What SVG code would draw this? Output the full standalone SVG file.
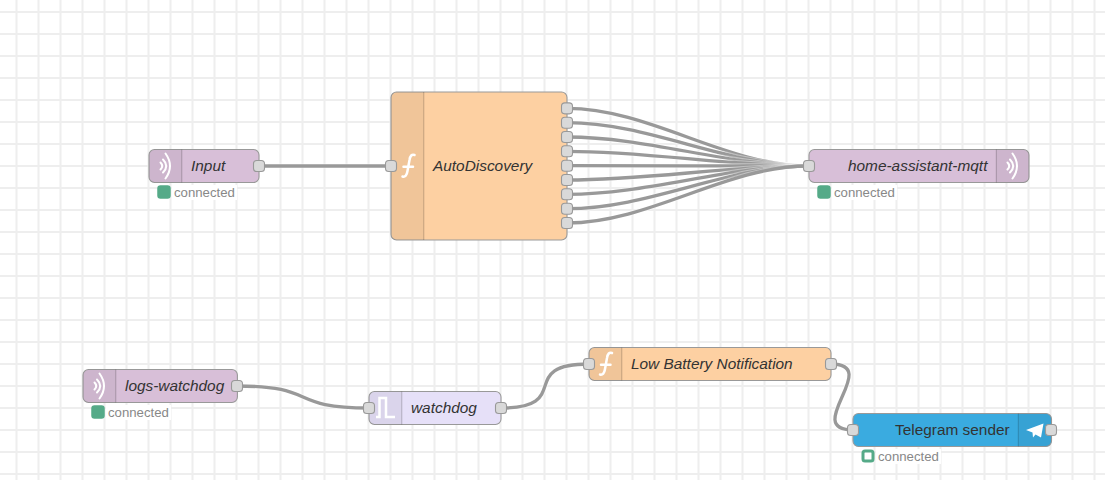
<svg xmlns="http://www.w3.org/2000/svg" width="1105" height="480" viewBox="0 0 1105 480">
<style>
.bg{fill:#fff}
.grid{stroke:#eee;stroke-width:2;fill:none}
.wire{stroke:#999;stroke-width:3.3;fill:none}
.halo{stroke:#fff;stroke-opacity:.4;stroke-width:5.5;fill:none}
.body{stroke:#999;stroke-width:1.1}
.tab{fill:#000;fill-opacity:.05}
.sep{stroke:#000;stroke-opacity:.2;stroke-width:1}
.port{fill:#d9d9d9;stroke:#999;stroke-width:1.1}
.label{font-family:"Liberation Sans",Arial,sans-serif;font-size:15.4px;fill:#333}
.it{font-style:italic}
.status{font-family:"Liberation Sans",Arial,sans-serif;font-size:13.2px;fill:#888}
.dot{fill:#5a8;stroke:#5a8;stroke-width:1.5}
.ring{fill:#fff;stroke:#5a8;stroke-width:3}
.ico{fill:none;stroke:#fff;stroke-width:2;stroke-linecap:round}
.icfn{fill:none;stroke:#fff;stroke-width:2.500;stroke-linecap:round}
.icf{fill:#fff}
.mq{fill:#d8bfd8}
.fn{fill:#fdd0a2}
.wd{fill:#e6e0f8}
.tg{fill:#3aabe0}
</style>
<defs>
<path id="wave" class="ico" d="M160.500 162.500Q164 166 160.500 169.500M163 159.500Q169.500 166 163 172.500M165.500 153.500Q174.500 166 165.500 178.500"/>
<path id="fun" class="icfn" d="M402.500 176.500Q406.500 177.500 407.500 171L409.500 160Q410.500 153.500 414.500 155M403.500 166.800H413"/>
<rect id="pt" class="port" x="-5.500" y="-5.500" width="11" height="11" rx="3.300"/>
</defs>
<rect class="bg" x="0" y="0" width="1105" height="480"/>
<g id="grid">
<path class="grid" d="M16.500 0V480M38.500 0V480M60.500 0V480M82.500 0V480M104.500 0V480M126.500 0V480M148.500 0V480M170.500 0V480M192.500 0V480M214.500 0V480M236.500 0V480M258.500 0V480M280.500 0V480M302.500 0V480M324.500 0V480M346.500 0V480M368.500 0V480M390.500 0V480M412.500 0V480M434.500 0V480M456.500 0V480M478.500 0V480M500.500 0V480M522.500 0V480M544.500 0V480M566.500 0V480M588.500 0V480M610.500 0V480M632.500 0V480M654.500 0V480M676.500 0V480M698.500 0V480M720.500 0V480M742.500 0V480M764.500 0V480M786.500 0V480M808.500 0V480M830.500 0V480M852.500 0V480M874.500 0V480M896.500 0V480M918.500 0V480M940.500 0V480M962.500 0V480M984.500 0V480M1006.500 0V480M1028.500 0V480M1050.500 0V480M1072.500 0V480M1094.500 0V480"/>
<path class="grid" d="M0 12H1105M0 34H1105M0 56H1105M0 78H1105M0 100H1105M0 122H1105M0 144H1105M0 166H1105M0 188H1105M0 210H1105M0 232H1105M0 254H1105M0 276H1105M0 298H1105M0 320H1105M0 342H1105M0 364H1105M0 386H1105M0 408H1105M0 430H1105M0 452H1105M0 474H1105"/>
</g>
<g id="connectors">
<path class="halo" d="M259 166H391"/><path class="wire" d="M259 166H391"/>
<path class="halo" d="M567 108.400C649.500 108.400 726 166 808.500 166"/><path class="wire" d="M567 108.400C649.500 108.400 726 166 808.500 166"/>
<path class="halo" d="M567 122.700C649.500 122.700 726 166 808.500 166"/><path class="wire" d="M567 122.700C649.500 122.700 726 166 808.500 166"/>
<path class="halo" d="M567 137C649.500 137 726 166 808.500 166"/><path class="wire" d="M567 137C649.500 137 726 166 808.500 166"/>
<path class="halo" d="M567 151.300C649.500 151.300 726 166 808.500 166"/><path class="wire" d="M567 151.300C649.500 151.300 726 166 808.500 166"/>
<path class="halo" d="M567 165.700C649.500 165.700 726 166 808.500 166"/><path class="wire" d="M567 165.700C649.500 165.700 726 166 808.500 166"/>
<path class="halo" d="M567 180C649.500 180 726 166 808.500 166"/><path class="wire" d="M567 180C649.500 180 726 166 808.500 166"/>
<path class="halo" d="M567 194.300C649.500 194.300 726 166 808.500 166"/><path class="wire" d="M567 194.300C649.500 194.300 726 166 808.500 166"/>
<path class="halo" d="M567 208.700C649.500 208.700 726 166 808.500 166"/><path class="wire" d="M567 208.700C649.500 208.700 726 166 808.500 166"/>
<path class="halo" d="M567 223C649.500 223 726 166 808.500 166"/><path class="wire" d="M567 223C649.500 223 726 166 808.500 166"/>
<path class="halo" d="M237 386C319.500 386 286.500 408 369 408"/><path class="wire" d="M237 386C319.500 386 286.500 408 369 408"/>
<path class="halo" d="M501 408C574.400 408 515.600 364 589 364"/><path class="wire" d="M501 408C574.400 408 515.600 364 589 364"/>
<path class="halo" d="M831 364C883 364 801 430 853 430"/><path class="wire" d="M831 364C883 364 801 430 853 430"/>
</g>
<g id="node-input">
<rect class="body mq" x="149" y="149.500" width="110" height="33" rx="5.500"/>
<path class="tab" d="M154.500 149.500H182V182.500H154.500A5.500 5.500 0 0 1 149 177V155A5.500 5.500 0 0 1 154.500 149.500Z"/>
<path class="sep" d="M181.800 149.500V182.500"/>
<use href="#wave"/>
<text class="label it" x="191" y="170.800">Input</text>
<use href="#pt" x="259" y="166"/>
<rect class="bg" x="172" y="185" width="65" height="15"/>
<rect class="dot" x="158" y="186" width="12" height="12" rx="2.500"/>
<text class="status" x="174" y="197">connected</text>
</g>
<g id="node-autodiscovery">
<rect class="body fn" x="391" y="92" width="176" height="148" rx="5.500"/>
<path class="tab" d="M396.500 92H424V240H396.500A5.500 5.500 0 0 1 391 234.500V97.500A5.500 5.500 0 0 1 396.500 92Z"/>
<path class="sep" d="M423.800 92V240"/>
<use href="#fun"/>
<text class="label it" x="433" y="170.800">AutoDiscovery</text>
<use href="#pt" x="391" y="166"/>
<use href="#pt" x="567" y="108.400"/>
<use href="#pt" x="567" y="122.700"/>
<use href="#pt" x="567" y="137"/>
<use href="#pt" x="567" y="151.300"/>
<use href="#pt" x="567" y="165.700"/>
<use href="#pt" x="567" y="180"/>
<use href="#pt" x="567" y="194.300"/>
<use href="#pt" x="567" y="208.700"/>
<use href="#pt" x="567" y="223"/>
</g>
<g id="node-home-assistant-mqtt">
<rect class="body mq" x="809" y="149.500" width="220" height="33" rx="5.500"/>
<path class="tab" d="M996 149.500H1023.500A5.500 5.500 0 0 1 1029 155V177A5.500 5.500 0 0 1 1023.500 182.500H996Z"/>
<path class="sep" d="M996.300 149.500V182.500"/>
<use href="#wave" x="847"/>
<text class="label it" x="848" y="170.800">home-assistant-mqtt</text>
<use href="#pt" x="809" y="166"/>
<rect class="bg" x="832" y="185" width="65" height="15"/>
<rect class="dot" x="818" y="186" width="12" height="12" rx="2.500"/>
<text class="status" x="834" y="197">connected</text>
</g>
<g id="node-logs-watchdog">
<rect class="body mq" x="83" y="369.500" width="154.400" height="33" rx="5.500"/>
<path class="tab" d="M88.500 369.500H116V402.500H88.500A5.500 5.500 0 0 1 83 397V375A5.500 5.500 0 0 1 88.500 369.500Z"/>
<path class="sep" d="M115.800 369.500V402.500"/>
<use href="#wave" x="-66" y="220"/>
<text class="label it" x="125" y="390.800">logs-watchdog</text>
<use href="#pt" x="237" y="386"/>
<rect class="bg" x="106" y="405" width="65" height="15"/>
<rect class="dot" x="92" y="406" width="12" height="12" rx="2.500"/>
<text class="status" x="108" y="417">connected</text>
</g>
<g id="node-watchdog">
<rect class="body wd" x="369" y="391.500" width="132" height="33" rx="5.500"/>
<path class="tab" d="M374.500 391.500H402V424.500H374.500A5.500 5.500 0 0 1 369 419V397A5.500 5.500 0 0 1 374.500 391.500Z"/>
<path class="sep" d="M401.800 391.500V424.500"/>
<path d="M376 417H379.500V398H386V417H395" fill="none" stroke="#fff" stroke-width="2.500"/>
<text class="label it" x="411" y="412.800">watchdog</text>
<use href="#pt" x="369" y="408"/>
<use href="#pt" x="501" y="408"/>
</g>
<g id="node-low-battery">
<rect class="body fn" x="589" y="347.500" width="242" height="33" rx="5.500"/>
<path class="tab" d="M594.500 347.500H622V380.500H594.500A5.500 5.500 0 0 1 589 375V353A5.500 5.500 0 0 1 594.500 347.500Z"/>
<path class="sep" d="M621.800 347.500V380.500"/>
<use href="#fun" x="197.500" y="198"/>
<text class="label it" x="631" y="368.800">Low Battery Notification</text>
<use href="#pt" x="589" y="364"/>
<use href="#pt" x="831" y="364"/>
</g>
<g id="node-telegram">
<rect class="body tg" x="853" y="413.500" width="198.500" height="33" rx="5.500"/>
<path class="tab" d="M1018.500 413.500H1046A5.500 5.500 0 0 1 1051.500 419V441A5.500 5.500 0 0 1 1046 446.500H1018.500Z"/>
<path class="sep" d="M1018.300 413.500V446.500"/>
<path class="icf" d="M1026 430L1043.500 423.500L1041 437.500L1035.500 434.500L1033 437.500L1032.500 432.500Z"/>
<text class="label" x="895" y="434.800">Telegram sender</text>
<use href="#pt" x="853" y="430"/>
<use href="#pt" x="1051" y="430"/>
<rect class="bg" x="876" y="449" width="65" height="15"/>
<rect class="ring" x="863" y="451" width="10" height="10" rx="2"/>
<text class="status" x="878" y="461">connected</text>
</g>
</svg>
